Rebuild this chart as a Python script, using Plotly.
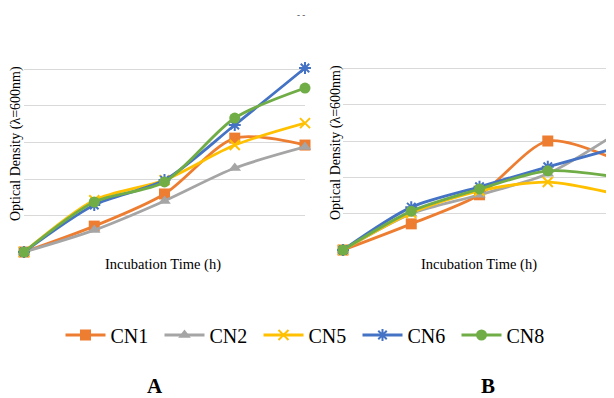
import plotly.graph_objects as go

W, H = 614, 398
OFF = 8  # page body margin in the browser
time_points = [0, 1, 2, 3, 4]
series_names = ["CN1", "CN2", "CN5", "CN6", "CN8"]
colors = ["#ED7D31", "#A5A5A5", "#FFC000", "#4472C4", "#70AD47"]

# Panel A values (grid units)
a_cn1 = [0, 0.71, 1.59, 3.12, 2.93]
a_cn2 = [0, 0.60, 1.40, 2.30, 2.88]
a_cn5 = [0, 1.42, 1.97, 2.93, 3.53]
a_cn6 = [0, 1.29, 1.97, 3.48, 5.04]
a_cn8 = [0, 1.37, 1.92, 3.67, 4.49]

# Panel B values (grid units)
b_cn1 = [0, 0.72, 1.52, 3.00, 2.48]
b_cn2 = [0, 1.00, 1.52, 2.10, 3.20]
b_cn5 = [0, 1.02, 1.63, 1.87, 1.54]
b_cn6 = [0, 1.18, 1.74, 2.29, 2.81]
b_cn8 = [0, 1.07, 1.68, 2.18, 2.01]

a_vals = [a_cn1, a_cn2, a_cn5, a_cn6, a_cn8]
b_vals = [b_cn1, b_cn2, b_cn5, b_cn6, b_cn8]

symbols = ["square", "triangle-up", "x-thin-open", "asterisk-open", "circle"]
sizes = [11, 11, 10, 10, 11]

FONT = "Times New Roman, Liberation Serif, serif"

fig = go.Figure()
for panel, vals in (("A", a_vals), ("B", b_vals)):
    for i, name in enumerate(series_names):
        open_sym = symbols[i].endswith("open")
        fig.add_trace(go.Scatter(
            x=time_points, y=vals[i], name=name,
            mode="lines+markers",
            line=dict(color=colors[i], width=2.8, shape="spline", smoothing=0.8),
            marker=dict(symbol=symbols[i], size=sizes[i], color=colors[i],
                        line=dict(color=colors[i], width=2 if open_sym else 0)),
            xaxis="x" if panel == "A" else "x2",
            yaxis="y" if panel == "A" else "y2",
            showlegend=(panel == "A"),
            cliponaxis=False,
        ))

def px(v):
    return (v - OFF) / W

def py(v):
    return (H - (v - OFF)) / H

axis_common = dict(showticklabels=False, ticks="", zeroline=False, showline=False)
fig.update_layout(
    width=W, height=H,
    margin=dict(l=0, r=0, t=0, b=0),
    paper_bgcolor="white", plot_bgcolor="white",
    font=dict(family=FONT, color="#000"),
    xaxis=dict(domain=[px(24), px(305)], range=[0, 4], showgrid=False, **axis_common),
    yaxis=dict(domain=[py(252.2), py(32.8)], range=[-0.005, 6.005], tickvals=[0, 1, 2, 3, 4, 5, 6],
               showgrid=True, gridcolor="#D9D9D9", gridwidth=1.3, **axis_common),
    xaxis2=dict(domain=[px(343), px(614)], range=[0, 3.97], showgrid=False, **axis_common),
    yaxis2=dict(domain=[py(250.2), py(31.8)], range=[-0.005, 6.005], tickvals=[0, 1, 2, 3, 4, 5, 6],
                showgrid=True, gridcolor="#D9D9D9", gridwidth=1.3, **axis_common),
    legend=dict(orientation="h", x=px(308), xanchor="center", y=py(335), yanchor="middle",
                font=dict(size=20, family=FONT), itemwidth=40,
                entrywidth=44, entrywidthmode="pixels",
                tracegroupgap=0, bgcolor="rgba(0,0,0,0)"),
    showlegend=True,
)

ann = []
for xc, yc in ((16, 144), (336, 143)):
    ann.append(dict(x=px(xc), y=py(yc), xref="paper", yref="paper",
                    xanchor="center", yanchor="middle",
                    text="Optical Density (λ=600nm)", showarrow=False, textangle=-90,
                    font=dict(size=14, family=FONT)))
for xc in (163, 479):
    ann.append(dict(x=px(xc), y=py(264), xref="paper", yref="paper",
                    xanchor="center", yanchor="middle",
                    text="Incubation Time (h)", showarrow=False,
                    font=dict(size=14.5, family=FONT)))
ann.append(dict(x=px(155), y=py(386), xref="paper", yref="paper", text="<b>A</b>",
                xanchor="center", yanchor="middle",
                showarrow=False, font=dict(size=21, family=FONT)))
ann.append(dict(x=px(488), y=py(386), xref="paper", yref="paper", text="<b>B</b>",
                xanchor="center", yanchor="middle",
                showarrow=False, font=dict(size=21, family=FONT)))
ann.append(dict(x=px(301), y=py(15), xref="paper", yref="paper", text="- -",
                xanchor="center", yanchor="middle",
                showarrow=False, font=dict(size=9, family=FONT, color="#333")))
fig.update_layout(annotations=ann)

fig.write_html("out.html")
